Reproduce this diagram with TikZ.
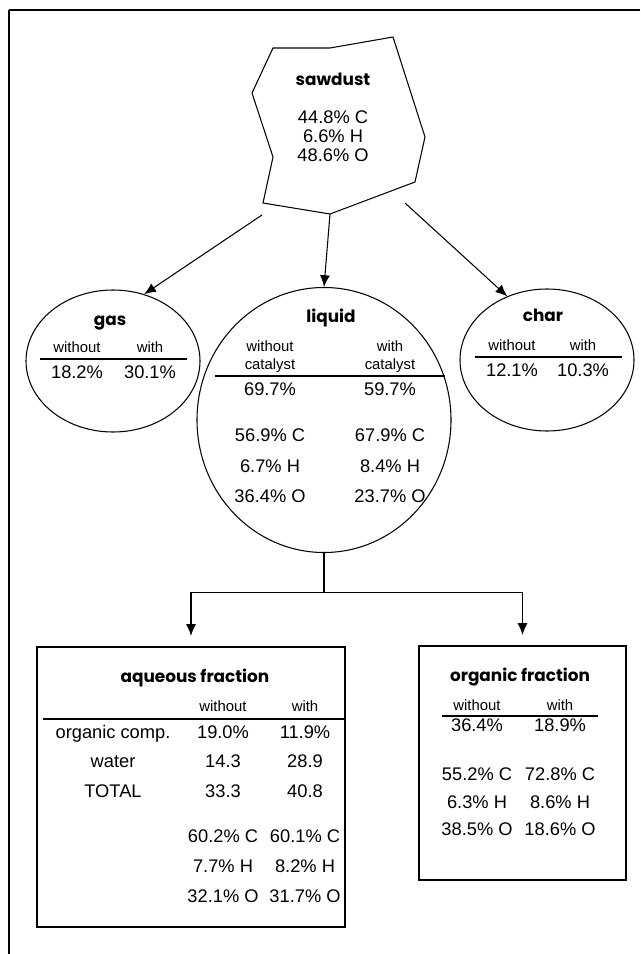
\documentclass[tikz,border=0pt]{standalone}
\usepackage{fontspec}
\setmainfont{Liberation Sans}
\newfontfamily\titlefont{Poppins}
\usetikzlibrary{calc,shapes.geometric,arrows.meta}

\begin{document}
\begin{tikzpicture}[x=0.03cm, y=-0.03cm]
%styles
\tikzstyle{textLine}=[rectangle, text=black, inner sep=0pt, font=\fontsize{15.6}{18}\selectfont, text height=1.5ex, text depth=0.25ex]
\tikzstyle{textw}=[rectangle, text=black, inner sep=0pt, font=\fontsize{12.7}{14}\selectfont, text height=1.5ex, text depth=0.25ex]
\tikzstyle{textTitle}=[rectangle, text=black, inner sep=0pt, font=\titlefont\bfseries\fontsize{14.4}{16}\selectfont, text height=1.5ex, text depth=0.25ex]
\tikzstyle{blob}=[ellipse, draw, line width=0.9pt, inner sep=0pt]
\tikzstyle{fracbox}=[rectangle, draw, line width=0.9pt, inner sep=0pt]
\tikzstyle{vector}=[-{Latex[length=10pt,width=8.5pt]}, line width=0.9pt]
\tikzstyle{rule}=[line width=0.9pt]

\useasboundingbox (0,0) rectangle (640,954);

%frame
\draw[line width=1.4pt] (640,10) -- (9,10);
\draw[line width=1pt] (9,10) -- (9,954);

%sawdust
\coordinate (p1) at (273,48);
\coordinate (p2) at (330,48);
\coordinate (p3) at (393,37);
\coordinate (p4) at (425,137);
\coordinate (p5) at (415,182);
\coordinate (p6) at (330,214);
\coordinate (p7) at (263,203);
\coordinate (p8) at (273,157);
\coordinate (p9) at (252,93);
\draw[line width=0.9pt] (p1) -- (p2) -- (p3) -- (p4) -- (p5) -- (p6) -- (p7) -- (p8) -- (p9) -- cycle;
\coordinate (gasout) at (262,215);
\coordinate (charout) at (405,203);

\node[textTitle] (sawt) at (333,82) {sawdust};
\node[textLine] (sawc) at (333,120) {44.8\% C};
\node[textLine] (sawh) at (333,139) {6.6\% H};
\node[textLine] (sawo) at (333,158) {48.6\% O};

%products
\node[blob, minimum width=5.22cm, minimum height=4.26cm] (gas) at (113,361) {};
\node[blob, minimum width=7.62cm, minimum height=7.95cm] (liquid) at (324,420) {};
\node[blob, minimum width=5.22cm, minimum height=4.26cm] (char) at (547,360) {};

\draw[vector] (gasout) -- (gas.65);
\draw[vector] (p6) -- (liquid.north);
\draw[vector] (charout) -- (char.122);

%gas
\node[textTitle] (gast) at (110,322) {gas};
\node[textw] (gaswo) at (77,349) {without};
\node[textw] (gasw) at (150,349) {with};
\draw[rule] (40,359) -- (187,359);
\node[textLine] (gasa) at (77,375) {18.2\%};
\node[textLine] (gasb) at (150,375) {30.1\%};

%liquid
\node[textTitle] (liqt) at (331,319) {liquid};
\node[textw] (liqwo) at (270,348) {without};
\node[textw] (liqwoc) at (270,366) {catalyst};
\node[textw] (liqw) at (390,348) {with};
\node[textw] (liqwc) at (390,366) {catalyst};
\draw[rule] (215,376) -- (445,376);
\node[textLine] (liqa) at (270,392) {69.7\%};
\node[textLine] (liqb) at (390,392) {59.7\%};
\node[textLine] (liqac) at (270,438) {56.9\% C};
\node[textLine] (liqbc) at (390,438) {67.9\% C};
\node[textLine] (liqah) at (270,469) {6.7\% H};
\node[textLine] (liqbh) at (390,469) {8.4\% H};
\node[textLine] (liqao) at (270,499) {36.4\% O};
\node[textLine] (liqbo) at (390,499) {23.7\% O};

%char
\node[textTitle] (chart) at (543,318) {char};
\node[textw] (charwo) at (512,347) {without};
\node[textw] (charw) at (583,347) {with};
\draw[rule] (475,357) -- (622,357);
\node[textLine] (chara) at (512,373) {12.1\%};
\node[textLine] (charb) at (583,373) {10.3\%};

%fractions
\node[fracbox, minimum width=9.24cm, minimum height=8.4cm] (aq) at (191,787) {};
\node[fracbox, minimum width=6.21cm, minimum height=7.02cm] (org) at (522.5,763) {};

\coordinate (split) at ($(liquid.south)+(0,39)$);
\draw[line width=0.9pt] (liquid.south) -- (split);
\draw[vector, shorten >=9pt] (split) -| (aq.north);
\draw[vector, shorten >=9pt] (split) -| (org.north);

%aqueous fraction
\node[textTitle] (aqt) at (195,679) {aqueous fraction};
\node[textw] (aqwo) at (223,708) {without};
\node[textw] (aqw) at (305,708) {with};
\draw[rule] (43,719) -- (345,719);
\node[textLine] (aqorg) at (113,735) {organic comp.};
\node[textLine] (aqorga) at (223,735) {19.0\%};
\node[textLine] (aqorgb) at (305,735) {11.9\%};
\node[textLine] (aqwat) at (113,764) {water};
\node[textLine] (aqwata) at (223,764) {14.3};
\node[textLine] (aqwatb) at (305,764) {28.9};
\node[textLine] (aqtot) at (113,794) {TOTAL};
\node[textLine] (aqtota) at (223,794) {33.3};
\node[textLine] (aqtotb) at (305,794) {40.8};
\node[textLine] (aqac) at (223,839) {60.2\% C};
\node[textLine] (aqbc) at (305,839) {60.1\% C};
\node[textLine] (aqah) at (223,869) {7.7\% H};
\node[textLine] (aqbh) at (305,869) {8.2\% H};
\node[textLine] (aqao) at (223,899) {32.1\% O};
\node[textLine] (aqbo) at (305,899) {31.7\% O};

%organic fraction
\node[textTitle] (orgt) at (520,678) {organic fraction};
\node[textw] (orgwo) at (477,707) {without};
\node[textw] (orgw) at (560,707) {with};
\draw[rule] (442,716) -- (598,716);
\node[textLine] (orga) at (477,728) {36.4\%};
\node[textLine] (orgb) at (560,728) {18.9\%};
\node[textLine] (orgac) at (477,777) {55.2\% C};
\node[textLine] (orgbc) at (560,777) {72.8\% C};
\node[textLine] (orgah) at (477,805) {6.3\% H};
\node[textLine] (orgbh) at (560,805) {8.6\% H};
\node[textLine] (orgao) at (477,832) {38.5\% O};
\node[textLine] (orgbo) at (560,832) {18.6\% O};
\end{tikzpicture}
\end{document}
